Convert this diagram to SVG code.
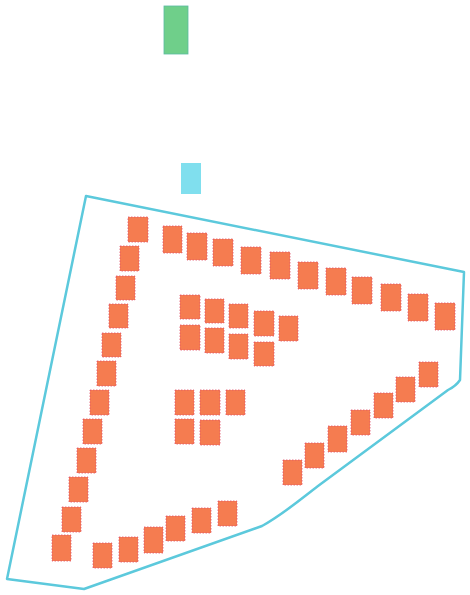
<svg xmlns="http://www.w3.org/2000/svg" width="470" height="595" viewBox="0 0 470 595">
<style>
.b{fill:#f57c50;stroke:#e0506a;stroke-width:0.8;stroke-dasharray:1.5 1.5}
.g{fill:#6fcf8a;stroke:#5bbba0;stroke-width:0.8}
.c{fill:#80dfee}
.z{fill:none;stroke:#5cc9dc;stroke-width:2.5;stroke-linejoin:round}
</style>
<rect width="470" height="595" fill="#fff"/>
<g id="zone"><path class="z" d="M86,196 L464,272 L460,380 Q456,386 448,390 L318,486 C296,503 282,515 262,526 L84,589 L7,579 Z"/></g>
<g id="top"><rect class="g" x="164" y="6" width="24" height="48"/></g>
<g id="entry"><rect class="c" x="181" y="163" width="20" height="31"/></g>
<g id="topRow">
<rect class="b" x="128" y="217" width="20" height="25"/>
<rect class="b" x="163" y="226" width="19" height="27"/>
<rect class="b" x="187" y="233" width="20" height="27"/>
<rect class="b" x="213" y="239" width="20" height="27"/>
<rect class="b" x="241" y="247" width="20" height="27"/>
<rect class="b" x="270" y="252" width="20" height="27"/>
<rect class="b" x="298" y="262" width="20" height="27"/>
<rect class="b" x="326" y="268" width="20" height="27"/>
<rect class="b" x="352" y="277" width="20" height="27"/>
<rect class="b" x="381" y="284" width="20" height="27"/>
<rect class="b" x="408" y="294" width="20" height="27"/>
<rect class="b" x="435" y="303" width="20" height="27"/>
</g>
<g id="leftCol">
<rect class="b" x="120" y="246" width="19" height="25"/>
<rect class="b" x="116" y="276" width="19" height="24"/>
<rect class="b" x="109" y="304" width="19" height="24"/>
<rect class="b" x="102" y="333" width="19" height="24"/>
<rect class="b" x="97" y="361" width="19" height="25"/>
<rect class="b" x="90" y="390" width="19" height="25"/>
<rect class="b" x="83" y="419" width="19" height="25"/>
<rect class="b" x="77" y="448" width="19" height="25"/>
<rect class="b" x="69" y="477" width="19" height="25"/>
<rect class="b" x="62" y="507" width="19" height="25"/>
<rect class="b" x="52" y="535" width="19" height="26"/>
</g>
<g id="bottomRow">
<rect class="b" x="93" y="543" width="19" height="25"/>
<rect class="b" x="119" y="537" width="19" height="25"/>
<rect class="b" x="144" y="527" width="19" height="26"/>
<rect class="b" x="166" y="516" width="19" height="25"/>
<rect class="b" x="192" y="508" width="19" height="25"/>
<rect class="b" x="218" y="501" width="19" height="25"/>
</g>
<g id="rightDiag">
<rect class="b" x="283" y="460" width="19" height="25"/>
<rect class="b" x="305" y="443" width="19" height="25"/>
<rect class="b" x="328" y="426" width="19" height="26"/>
<rect class="b" x="351" y="410" width="19" height="25"/>
<rect class="b" x="374" y="393" width="19" height="25"/>
<rect class="b" x="396" y="377" width="19" height="25"/>
<rect class="b" x="419" y="362" width="19" height="25"/>
</g>
<g id="innerUpper">
<rect class="b" x="180" y="295" width="20" height="24"/>
<rect class="b" x="205" y="299" width="19" height="24"/>
<rect class="b" x="229" y="304" width="19" height="24"/>
<rect class="b" x="254" y="311" width="20" height="25"/>
<rect class="b" x="279" y="316" width="19" height="25"/>
<rect class="b" x="180" y="325" width="20" height="25"/>
<rect class="b" x="205" y="328" width="19" height="25"/>
<rect class="b" x="229" y="334" width="19" height="25"/>
<rect class="b" x="254" y="342" width="20" height="24"/>
</g>
<g id="innerLower">
<rect class="b" x="175" y="390" width="19" height="25"/>
<rect class="b" x="200" y="390" width="20" height="25"/>
<rect class="b" x="226" y="390" width="19" height="25"/>
<rect class="b" x="175" y="419" width="19" height="25"/>
<rect class="b" x="200" y="420" width="20" height="25"/>
</g>
</svg>
